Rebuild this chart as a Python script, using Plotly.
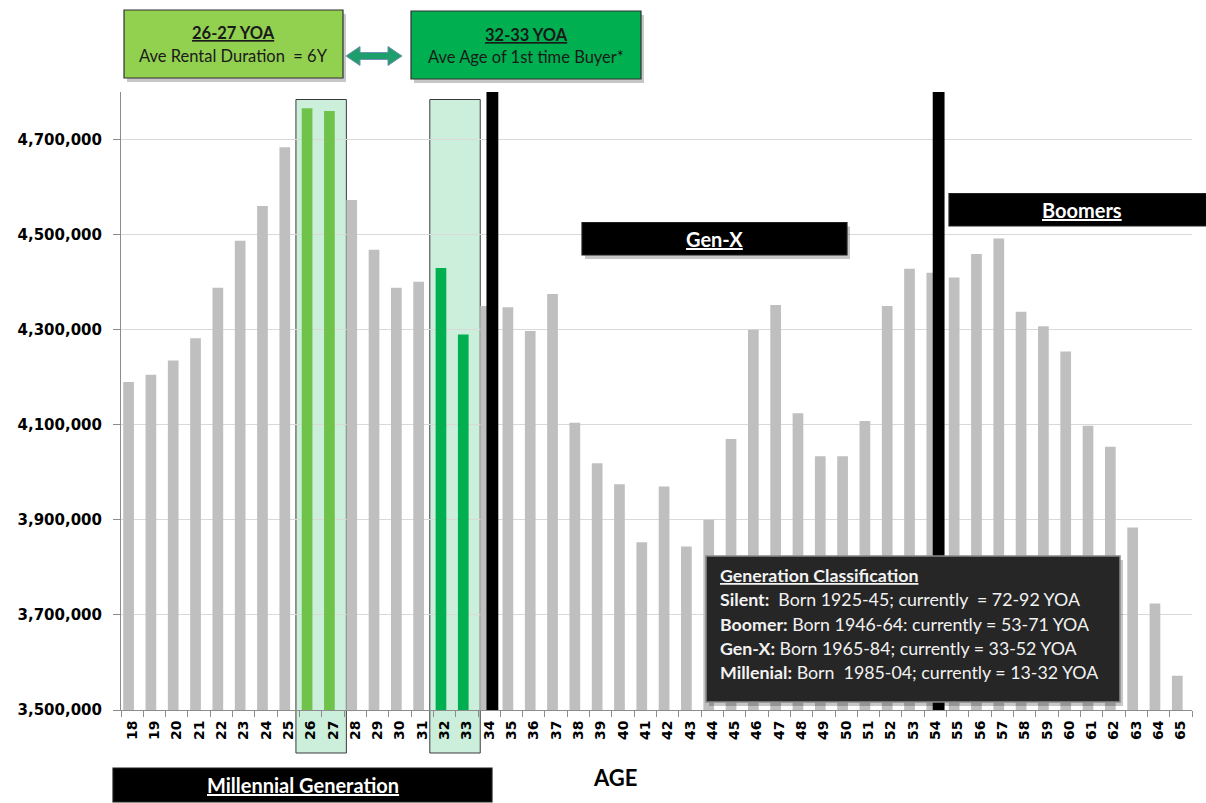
import plotly.graph_objects as go

# ---------------- data ----------------
ages = [str(a) for a in range(18, 66)]
population = [4190000, 4205000, 4235000, 4282000, 4388000, 4487000, 4560000, 4684000,
              4766000, 4760000, 4573000, 4468000, 4388000, 4401000, 4430000, 4290000,
              4350000, 4347000, 4297000, 4375000, 4104000, 4019000, 3975000, 3853000,
              3970000, 3844000, 3900000, 4070000, 4300000, 4352000, 4124000, 4034000,
              4034000, 4108000, 4350000, 4428000, 4420000, 4410000, 4459000, 4492000,
              4338000, 4307000, 4254000, 4098000, 4054000, 3884000, 3724000, 3572000]
rental_ages = ["26", "27"]          # ave rental duration highlight
buyer_ages = ["32", "33"]           # ave age of 1st time buyer highlight
divider_ages = ["34", "54"]         # generation dividers
y_min, y_max = 3500000, 4800000
y_ticks = list(range(3500000, 4800001, 200000))

# ---------------- layout geometry ----------------
W, H = 1206, 803
ML, MR, MT, MB = 121, 14, 92, 93
PW, PH = W - ML - MR, H - MT - MB


def X(p):
    return (p - ML) / PW


def Y(q):
    return (H - MB - q) / PH


GRAY = "#BFBFBF"
LGREEN = "#70C34A"
DGREEN = "#00B050"

colors = []
for a in ages:
    if a in rental_ages:
        colors.append(LGREEN)
    elif a in buyer_ages:
        colors.append(DGREEN)
    else:
        colors.append(GRAY)

fig = go.Figure()
fig.add_trace(go.Bar(x=ages, y=population, marker=dict(color=colors, line=dict(width=0)),
                     offset=-0.40, width=0.48, hoverinfo="x+y"))
fig.add_trace(go.Bar(x=divider_ages, y=[y_max] * len(divider_ages),
                     marker=dict(color="black", line=dict(width=0)),
                     offset=-0.12, width=0.53, hoverinfo="skip"))

shapes = []
annotations = []


def rect(x0, y0, x1, y1, fill, line="#303030", lw=1.2, shadow=True, layer="above"):
    if shadow:
        shapes.append(dict(type="rect", xref="paper", yref="paper",
                           x0=X(x0 + 3), x1=X(x1 + 3), y0=Y(y0 + 4), y1=Y(y1 + 4),
                           fillcolor="rgba(0,0,0,0.22)", line=dict(width=0), layer=layer))
    shapes.append(dict(type="rect", xref="paper", yref="paper",
                       x0=X(x0), x1=X(x1), y0=Y(y0), y1=Y(y1),
                       fillcolor=fill, line=dict(color=line, width=lw), layer=layer))


def text(cx, cy, s, size=15, color="#1a1a1a", family="Lato", anchor="center"):
    annotations.append(dict(xref="paper", yref="paper", x=X(cx), y=Y(cy), text=s,
                            showarrow=False, xanchor=anchor, yanchor="middle",
                            font=dict(family=family, size=size, color=color)))


# highlight columns (below bars)
for grp in (rental_ages, buyer_ages):
    i0 = ages.index(grp[0])
    i1 = ages.index(grp[-1])
    shapes.append(dict(type="rect", xref="x", yref="paper",
                       x0=i0 - 0.66, x1=i1 + 0.60, y0=Y(753), y1=Y(99.5),
                       fillcolor="rgba(0,176,80,0.20)", line=dict(color="#3a3a3a", width=1),
                       layer="below"))

# top info boxes
rect(124, 10, 343, 78, "#92D050")
text(233.5, 33, "<b><u>26-27 YOA</u></b>", 16.5)
text(233.5, 56, "Ave Rental Duration&nbsp; = 6Y", 16.5)
rect(411, 11, 641, 79, "#00B050")
text(526, 35, "<b><u>32-33 YOA</u></b>", 16.5)
text(526, 57, "Ave Age of 1st time Buyer*", 16.5)

# double arrow
pts = [(346, 56), (360, 46.5), (360, 52.5), (388, 52.5), (388, 46.5), (402, 56),
       (388, 65.5), (388, 59.5), (360, 59.5), (360, 65.5)]
path = "M " + " L ".join(f"{X(px):.5f},{Y(py):.5f}" for px, py in pts) + " Z"
shapes.append(dict(type="path", xref="paper", yref="paper", path=path,
                   fillcolor="#1E9E6C", line=dict(color="#7090B0", width=1)))

# generation labels
rect(582, 222.5, 847, 255, "black", line="#202020")
text(714.5, 239, "<b><u>Gen-X</u></b>", 20, "white")
rect(949, 193.5, 1212, 226, "black", line="#202020", shadow=False)
text(1082, 210, "<b><u>Boomers</u></b>", 20, "white")
rect(113, 768, 492, 802, "black", line="#202020", shadow=False)
text(303, 785, "<b><u>Millennial Generation</u></b>", 20, "white")

# classification box
rect(706, 556, 1120, 702, "#262626", line="#8a8a8a", lw=1.5)
legend_lines = [
    "<b><u>Generation Classification</u></b>",
    "<b>Silent:</b>&nbsp; Born 1925-45; currently&nbsp; = 72-92 YOA",
    "<b>Boomer:</b> Born 1946-64: currently = 53-71 YOA",
    "<b>Gen-X:</b> Born 1965-84; currently = 33-52 YOA",
    "<b>Millenial:</b> Born&nbsp; 1985-04; currently = 13-32 YOA",
]
for k, s in enumerate(legend_lines):
    text(718, 575 + k * 24.3, s, 17.8, "#F2F2F2", anchor="left")

# axis title
text(615, 777, "<b>AGE</b>", 22, "black")

fig.update_layout(
    width=W, height=H,
    margin=dict(l=ML, r=MR, t=MT, b=MB),
    paper_bgcolor="white", plot_bgcolor="white",
    showlegend=False, barmode="overlay",
    shapes=shapes, annotations=annotations,
    xaxis=dict(type="category", categoryorder="array", categoryarray=ages,
               range=[-0.5, len(ages) - 0.5], tickangle=-90,
               tickson="boundaries", ticks="outside", ticklen=6, tickcolor="#8c8c8c",
               showline=True, linecolor="#8c8c8c", linewidth=1, showgrid=False,
               ticklabelstandoff=4,
               tickfont=dict(family="DejaVu Sans", size=14, color="black", weight="bold")),
    yaxis=dict(range=[y_min, y_max], tickvals=y_ticks, tickformat=",",
               ticks="outside", ticklen=7, tickcolor="#8c8c8c",
               showline=True, linecolor="#8c8c8c", linewidth=1,
               showgrid=True, gridcolor="#D9D9D9", gridwidth=1, zeroline=False,
               ticklabelstandoff=8,
               tickfont=dict(family="DejaVu Sans", size=15, color="black", weight="bold")),
)

fig.write_html("out.html")
